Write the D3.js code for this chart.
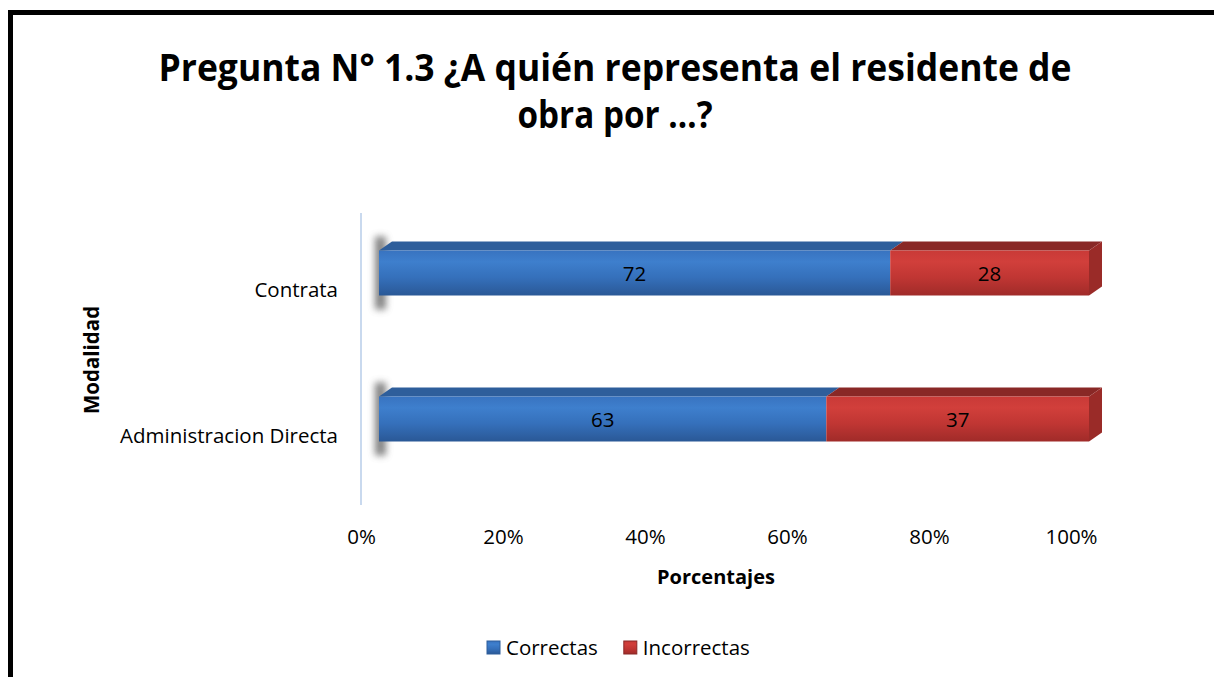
<!DOCTYPE html>
<html>
<head>
<meta charset="utf-8">
<script src="https://cdn.jsdelivr.net/npm/d3@7"></script>
<style>
  body { margin: 0; background: #fff; }
  text { font-family: "Open Sans", "Noto Sans", sans-serif; }
</style>
</head>
<body>
<div id="chart"></div>
<script>
var categories = ["Contrata", "Administracion Directa"];
var seriesNames = ["Correctas", "Incorrectas"];
var correctas = [72, 63];
var incorrectas = [28, 37];
var xTicks = [0, 20, 40, 60, 80, 100];

var W = 1214, H = 677,
	depthX = 13, depthY = -9,
	barH = 45,
	frontShift = 18,
	bodyFont = "20.5px";

var svg = d3.select("#chart").append("svg")
	.attr("width", W)
	.attr("height", H);

var defs = svg.append("defs");

function grad(id, stops) {
	var g = defs.append("linearGradient").attr("id", id)
		.attr("x1", 0).attr("y1", 0).attr("x2", 0).attr("y2", 1);
	stops.forEach(function(s) {
		g.append("stop").attr("offset", s[0]).attr("stop-color", s[1]);
	});
}
grad("blueFront", [[0, "#3873c0"], [0.25, "#3e7fcd"], [0.6, "#3570bb"], [1, "#2a5896"]]);
grad("redFront", [[0, "#c93a37"], [0.25, "#d13f3b"], [0.6, "#c03633"], [1, "#a02b29"]]);

defs.append("filter").attr("id", "blur")
	.attr("x", "-200%").attr("y", "-50%").attr("width", "500%").attr("height", "200%")
	.append("feGaussianBlur").attr("stdDeviation", 3.5);

// border
svg.append("rect")
	.attr("x", 10.5).attr("y", 12.5)
	.attr("width", W + 20).attr("height", H + 20)
	.attr("fill", "none")
	.attr("stroke", "#000")
	.attr("stroke-width", 5);

// title
var titleLines = ["Pregunta N\u00b0 1.3 \u00bfA qui\u00e9n representa el residente de", "obra por \u2026?"];
var titleWidths = [913, 195];
svg.append("g").selectAll("text")
	.data(titleLines)
	.enter().append("text")
	.attr("x", 615)
	.attr("y", function(d, i) { return 81 + i * 47; })
	.attr("text-anchor", "middle")
	.attr("textLength", function(d, i) { return titleWidths[i]; })
	.attr("lengthAdjust", "spacingAndGlyphs")
	.style("font-weight", "bold")
	.style("font-size", "38px")
	.text(function(d) { return d; });

var x = d3.scaleLinear().domain([0, 100]).range([361, 1071]);
var y = d3.scaleBand().domain(categories).range([213, 505]);

// vertical axis line
svg.append("line")
	.attr("x1", 361).attr("x2", 361)
	.attr("y1", 213).attr("y2", 505)
	.attr("stroke", "#c9d9ee")
	.attr("stroke-width", 2);

// category labels
svg.selectAll(".cat")
	.data(categories)
	.enter().append("text")
	.attr("class", "cat")
	.attr("x", 338)
	.attr("y", function(d) { return y(d) + y.bandwidth() / 2 + 11; })
	.attr("text-anchor", "end")
	.style("font-size", bodyFont)
	.text(function(d) { return d; });

// x axis labels
var xAxis = d3.axisBottom(x).tickValues(xTicks)
	.tickFormat(function(d) { return d + "%"; })
	.tickSize(0).tickPadding(0);
var ax = svg.append("g").attr("transform", "translate(0,530)").call(xAxis);
ax.select(".domain").remove();
ax.selectAll("text")
	.attr("dy", 0).attr("y", 14)
	.style("font-family", "'Open Sans', sans-serif")
	.style("font-size", bodyFont)
	.attr("fill", "#000");

svg.append("text")
	.attr("x", 716).attr("y", 584)
	.attr("text-anchor", "middle")
	.style("font-weight", "bold")
	.style("font-size", "20px")
	.text("Porcentajes");

svg.append("text")
	.attr("transform", "translate(99,360) rotate(-90)")
	.attr("text-anchor", "middle")
	.style("font-weight", "bold")
	.style("font-size", "20.5px")
	.text("Modalidad");

// bars
var rows = categories.map(function(c, i) {
	return { cat: c, segs: [
		{ s: 0, v0: 0, v1: correctas[i], v: correctas[i] },
		{ s: 1, v0: correctas[i], v1: correctas[i] + incorrectas[i], v: incorrectas[i] }
	] };
});

var fronts = ["url(#blueFront)", "url(#redFront)"];
var tops = ["#2e5e9b", "#892826"];
var sides = ["#2a5690", "#9a2b28"];

var bars = svg.selectAll(".row")
	.data(rows)
	.enter().append("g")
	.attr("class", "row")
	.attr("transform", function(d) {
		return "translate(" + frontShift + "," + (y(d.cat) + y.bandwidth() / 2 - 13 - barH / 2) + ")";
	});

// left-end shadow
bars.append("rect")
	.attr("x", x(0) - 4).attr("y", -14)
	.attr("width", 11).attr("height", barH + 28)
	.attr("fill", "#5a5a5a")
	.attr("opacity", 0.75)
	.attr("filter", "url(#blur)");

bars.each(function(d) {
	var g = d3.select(this);
	var segs = g.selectAll(".seg").data(d.segs).enter().append("g").attr("class", "seg");
	segs.append("path")
		.attr("d", function(s) {
			var a = x(s.v0), b = x(s.v1);
			return "M" + a + ",0L" + (a + depthX) + "," + depthY + "L" + (b + depthX) + "," + depthY + "L" + b + ",0Z";
		})
		.attr("fill", function(s) { return tops[s.s]; });
	segs.append("rect")
		.attr("x", function(s) { return x(s.v0); })
		.attr("y", 0)
		.attr("width", function(s) { return x(s.v1) - x(s.v0); })
		.attr("height", barH)
		.attr("fill", function(s) { return fronts[s.s]; });
	segs.filter(function(s) { return s.s === 1; })
		.append("path")
		.attr("d", function(s) {
			var b = x(s.v1);
			return "M" + b + ",0L" + (b + depthX) + "," + depthY + "L" + (b + depthX) + "," + (barH + depthY) + "L" + b + "," + barH + "Z";
		})
		.attr("fill", function(s) { return sides[s.s]; });
	segs.append("text")
		.attr("x", function(s) { return (x(s.v0) + x(s.v1)) / 2; })
		.attr("y", barH / 2 + 8)
		.attr("text-anchor", "middle")
		.style("font-size", bodyFont)
		.text(function(s) { return s.v; });
});

// legend
var legend = svg.append("g").attr("transform", "translate(0,648)");
var items = legend.selectAll(".li").data(seriesNames).enter().append("g").attr("class", "li");
items.append("rect")
	.attr("width", 13).attr("height", 13).attr("y", -7)
	.attr("fill", function(d, i) { return fronts[i]; })
	.attr("stroke", function(d, i) { return tops[i]; })
	.attr("stroke-width", 1);
items.append("text")
	.attr("x", 19).attr("y", 7)
	.style("font-size", bodyFont)
	.text(function(d) { return d; });
var pos = 487;
items.attr("transform", function(d, i) {
	var w = d3.select(this).select("text").node().getComputedTextLength();
	var p = pos;
	pos += 19 + w + 26;
	return "translate(" + p + ",0)";
});
</script>
</body>
</html>
